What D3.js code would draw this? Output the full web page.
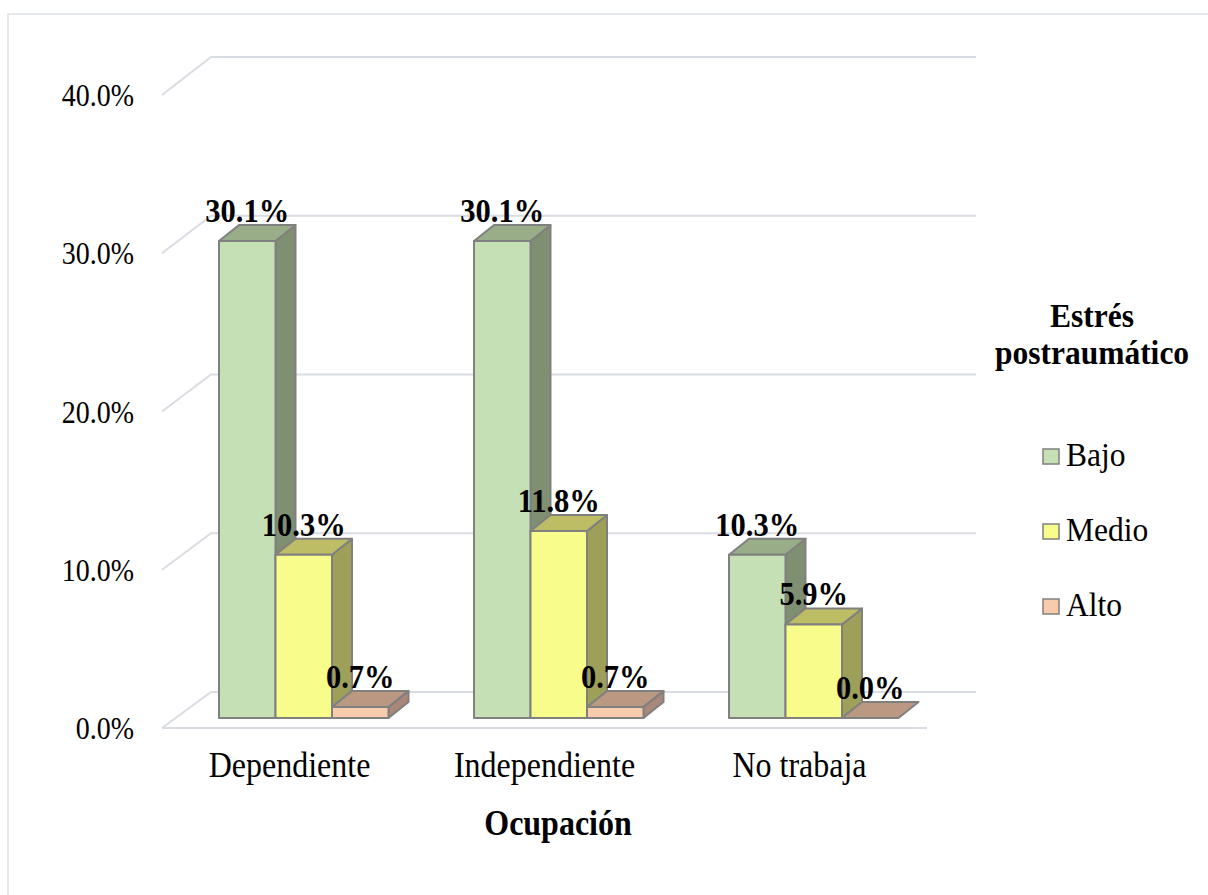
<!DOCTYPE html>
<html><head><meta charset="utf-8">
<script src="https://cdn.jsdelivr.net/npm/d3@7"></script>
<style>body{margin:0;background:#fff}svg{display:block}text{font-family:"Liberation Serif","Times New Roman",serif}</style>
</head><body><svg id="c" width="1208" height="895"></svg>
<script>
const categories = ["Dependiente","Independiente","No trabaja"];
const seriesNames = ["Bajo","Medio","Alto"];
const bajo  = [30.1, 30.1, 10.3];
const medio = [10.3, 11.8, 5.9];
const alto  = [0.7, 0.7, 0.0];
const yTicks = [0,10,20,30,40];
const xTitle = "Ocupación";
const legendTitle = ["Estrés","postraumático"];

const values = [bajo, medio, alto];
const colors = {
  Bajo:  {front:"#C5E0B4", top:"#98AD88", side:"#7F8F71"},
  Medio: {front:"#F8FC8A", top:"#BDBD66", side:"#9EA05A"},
  Alto:  {front:"#F8CBAD", top:"#BB9882", side:"#A8887A"}
};
const SY = 1.1; // vertical stretch of text as in reference
function place(sel, fx, fy){ return sel.attr("transform",(d,i)=>`translate(${fx(d,i)},${fy(d,i)}) scale(1,${SY})`); }

const svg = d3.select("#c");
svg.append("rect").attr("x",8).attr("y",14).attr("width",1400).attr("height",1100)
  .attr("fill","#fff").attr("stroke","#DDE1E8").attr("stroke-width",1.5);

const DX = 49, DY = -36;
const yFront = d3.scaleLinear().domain([0,40]).range([728,95]);
const yBack  = d3.scaleLinear().domain([0,40]).range([692,57]);
const yBar   = d3.scaleLinear().domain([0,40]).range([718,84]);
const x0 = d3.scaleBand().domain(categories).range([162,927]);
const x1 = d3.scaleBand().domain(seriesNames).range([57,226.5]);
const bdx = 20, bdy = -16;

const grid = svg.append("g").attr("stroke","#D9DCE3").attr("stroke-width",2).attr("fill","none");
yTicks.forEach(v=>{
  grid.append("path").attr("d",`M${162},${yFront(v)}L${162+DX},${yBack(v)}L${927+DX},${yBack(v)}`);
});
grid.append("path").attr("d",`M162,${yFront(0)}L927,${yFront(0)}`);

place(svg.append("g").selectAll("text").data(yTicks).join("text"), ()=>134, d=>yFront(d)+11)
  .attr("text-anchor","end").attr("font-size",28).attr("fill","#000").text(d=>d.toFixed(1)+"%");

const bars = svg.append("g").attr("stroke","#808080").attr("stroke-width",2).attr("stroke-linejoin","round");
categories.forEach((c,ci)=>{
  seriesNames.forEach((s,si)=>{
    const v = values[si][ci];
    const x = x0(c)+x1(s), w = x1.bandwidth();
    const yb = yBar(0), yt = yBar(v);
    const col = colors[s];
    if (v>0) {
      bars.append("path").attr("fill",col.side)
        .attr("d",`M${x+w},${yt}L${x+w+bdx},${yt+bdy}L${x+w+bdx},${yb+bdy}L${x+w},${yb}Z`);
    }
    bars.append("path").attr("fill",col.top)
      .attr("d",`M${x},${yt}L${x+bdx},${yt+bdy}L${x+w+bdx},${yt+bdy}L${x+w},${yt}Z`);
    if (v>0) {
      bars.append("rect").attr("fill",col.front).attr("x",x).attr("y",yt).attr("width",w).attr("height",yb-yt);
    }
  });
});

categories.forEach((c,ci)=>{
  seriesNames.forEach((s,si)=>{
    const v = values[si][ci];
    svg.append("text").attr("transform",`translate(${x0(c)+x1(s)+x1.bandwidth()/2},${yBar(v)-19}) scale(1,${SY})`)
      .attr("text-anchor","middle").attr("font-size",30.5).attr("font-weight","bold")
      .attr("fill","#000").text(v.toFixed(1)+"%");
  });
});

place(svg.append("g").selectAll("text").data(categories).join("text"), d=>x0(d)+x0.bandwidth()/2, ()=>777)
  .attr("text-anchor","middle").attr("font-size",32).attr("fill","#000").text(d=>d);

svg.append("text").attr("transform",`translate(558,835) scale(1,${SY})`).attr("text-anchor","middle")
  .attr("font-size",32).attr("font-weight","bold").text(xTitle);

place(svg.append("g").selectAll("text").data(legendTitle).join("text"), ()=>1092, (d,i)=>327+i*37)
  .attr("text-anchor","middle").attr("font-size",31.5).attr("font-weight","bold").text(d=>d);
const lg = svg.append("g").selectAll("g").data(seriesNames).join("g")
  .attr("transform",(d,i)=>`translate(0,${i*75})`);
lg.append("rect").attr("x",1043).attr("y",449).attr("width",16).attr("height",15)
  .attr("fill",d=>colors[d].front).attr("stroke","#808080").attr("stroke-width",1.5);
place(lg.append("text"), ()=>1066, ()=>466).attr("font-size",31.5).text(d=>d);
</script></body></html>
